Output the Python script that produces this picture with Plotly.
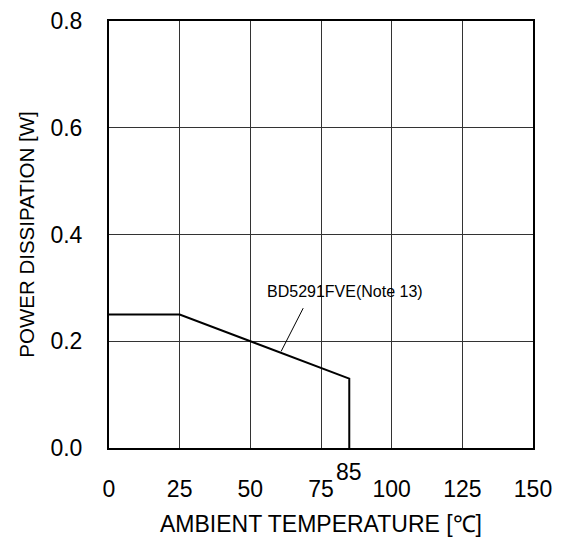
import plotly.graph_objects as go

# ── Datos ─────────────────────────────────────────────────────────────────────
TEMP_C = [0, 25, 85, 85]
POTENCIA_W = [0.25, 0.25, 0.13, 0.0]

X_TICKS = [0, 25, 50, 75, 100, 125, 150]
Y_TICKS = [0.0, 0.2, 0.4, 0.6, 0.8]

ETIQUETA = "BD5291FVE(Note 13)"

FONT = dict(family="Liberation Sans, Arial, sans-serif", color="black")

fig = go.Figure()
fig.add_trace(go.Scatter(
    x=TEMP_C, y=POTENCIA_W, mode="lines",
    line=dict(color="black", width=2),
    showlegend=False, hoverinfo="skip",
))

# línea guía de la etiqueta
fig.add_shape(type="line", x0=60.9, y0=0.181, x1=68.7, y1=0.262,
              line=dict(color="black", width=1))
fig.add_annotation(x=55.1, y=0.294, text=ETIQUETA, showarrow=False,
                   xanchor="left", yanchor="middle",
                   font=dict(size=16, **FONT))
fig.add_annotation(x=85, y=0, yref="y", text="85", showarrow=False,
                   yanchor="middle", yshift=-24,
                   font=dict(size=23, **FONT))

fig.update_layout(
    width=561, height=551,
    margin=dict(l=101, r=36, t=13, b=111),
    plot_bgcolor="white", paper_bgcolor="white",
    font=dict(size=23, **FONT),
    xaxis=dict(
        range=[0, 150], tickvals=X_TICKS, ticks="inside", ticklen=5,
        tickcolor="#333", showgrid=True, gridcolor="#333", gridwidth=1,
        showline=True, linecolor="black", linewidth=2, mirror=True,
        ticklabelstandoff=19, zeroline=False, automargin=False,
        ticklabeloverflow="allow", tickfont=dict(size=23),
        title=dict(text="AMBIENT TEMPERATURE [℃]", standoff=15, font=dict(size=23)),
    ),
    yaxis=dict(
        range=[0, 0.8], tickvals=Y_TICKS, tickformat=".1f", ticks="inside",
        ticklen=5, tickcolor="#333", showgrid=True, gridcolor="#333",
        gridwidth=1, showline=True, linecolor="black", linewidth=2,
        mirror=True, ticklabelstandoff=20, zeroline=False, automargin=False,
        ticklabeloverflow="allow", tickfont=dict(size=23),
        title=dict(text="POWER DISSIPATION [W]", standoff=10, font=dict(size=20.5)),
    ),
)

fig.write_html("out.html")
